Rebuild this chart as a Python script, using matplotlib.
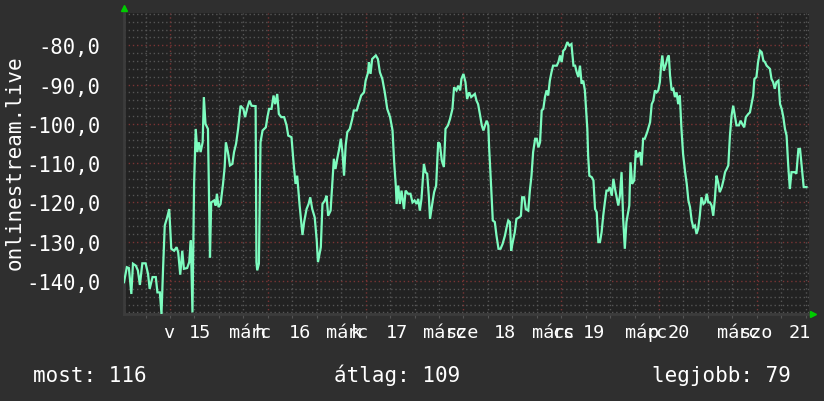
import matplotlib
matplotlib.use("Agg")
import matplotlib.pyplot as plt
from matplotlib.transforms import blended_transform_factory

# hours since 2020-03-15 00:00 and measured value
hours = [
    -11.3, -10.6, -10.1, -9.5, -9.1, -8.4, -7.9, -7.4, -6.8, -6.0, -5.4, -5.0, -4.3, -3.5, -3.1, -2.5,
    -2.1, -1.7, -1.3, -0.7, -0.2, 0.3, 1.0, 1.6, 2.0, 2.5, 3.0, 3.4, 4.2, 4.7, 5.1, 5.5,
    5.9, 6.3, 6.7, 7.1, 7.5, 8.0, 8.3, 8.7, 9.3, 9.8, 10.1, 10.8, 11.2, 11.5, 11.9, 12.4,
    13.0, 13.4, 13.7, 14.2, 14.7, 15.3, 15.7, 16.2, 16.7, 17.3, 18.0, 18.4, 19.0, 19.5, 20.0, 21.0,
    21.2, 21.4, 21.8, 22.2, 22.7, 23.5, 23.9, 24.3, 24.9, 25.4, 25.8, 26.3, 26.7, 27.3, 28.0, 28.6,
    29.0, 29.8, 30.3, 30.8, 31.2, 31.8, 32.5, 32.9, 33.5, 34.0, 34.4, 34.9, 35.5, 36.0, 36.3, 37.0,
    37.4, 38.0, 38.4, 38.8, 39.4, 39.8, 40.2, 40.6, 41.1, 41.5, 41.9, 42.3, 42.7, 43.1, 43.5, 44.1,
    44.7, 45.1, 45.8, 46.4, 46.9, 47.6, 48.0, 48.6, 48.8, 49.2, 49.6, 50.5, 51.0, 51.5, 52.1, 52.7,
    53.3, 54.0, 54.6, 55.0, 55.4, 55.6, 56.0, 56.4, 56.8, 57.4, 57.8, 58.4, 59.0, 59.5, 60.0, 60.5,
    60.9, 61.3, 61.7, 62.3, 62.7, 63.1, 63.5, 63.8, 64.4, 64.8, 65.3, 65.8, 66.2, 66.7, 67.2, 67.6,
    68.2, 68.7, 69.3, 69.7, 70.3, 70.7, 71.2, 71.5, 72.0, 72.5, 72.9, 73.4, 73.9, 74.8, 75.2, 75.6,
    76.1, 76.5, 76.9, 77.3, 77.7, 78.1, 78.3, 78.7, 79.2, 79.7, 80.1, 80.6, 81.1, 81.6, 82.2, 82.6,
    83.0, 83.4, 83.7, 84.1, 84.6, 85.0, 85.7, 86.1, 86.4, 86.9, 87.3, 87.9, 88.3, 88.7, 89.1, 89.6,
    90.0, 90.4, 90.8, 91.2, 91.6, 92.0, 92.4, 92.8, 93.2, 93.6, 94.0, 94.9, 95.3, 95.7, 96.1, 96.5,
    96.9, 97.5, 98.0, 98.5, 99.0, 99.4, 99.8, 100.2, 100.6, 101.0, 101.4, 101.8, 102.1, 102.4, 102.6, 102.9,
    103.5, 103.9, 104.3, 104.7, 105.1, 105.5, 105.9, 106.3, 106.7, 107.1, 107.5, 107.9, 108.4, 108.8, 109.2, 109.6,
    110.0, 110.4, 110.8, 111.2, 111.6, 112.0, 112.7, 113.0, 113.4, 113.9, 114.3, 114.7, 115.3, 115.7, 116.1, 116.5,
    117.1, 117.8, 118.2, 118.6, 119.0, 119.4, 119.8, 120.2, 120.5, 120.8, 121.2, 121.7, 122.1, 122.4, 122.7, 123.1,
    123.5, 123.9, 124.3, 124.7, 125.1, 125.5, 125.9, 126.4, 126.8, 127.2, 127.6, 128.0, 128.4, 128.8, 129.2, 129.6,
    130.0, 130.4, 130.9, 131.3, 131.7, 132.1, 132.5, 132.9, 133.3, 133.7, 134.1, 134.5, 134.9, 135.4, 135.8, 136.2,
    136.6, 137.0, 137.4, 137.8, 138.2, 138.6, 139.0, 139.6, 140.0, 140.4, 140.9, 141.3, 141.9, 142.3, 142.7, 143.1,
    143.4, 143.9, 144.3, 144.8, 145.2, 145.6, 146.0, 146.4, 146.8, 147.2, 147.6, 148.0, 148.4, 148.8, 149.3, 149.7,
    150.1, 150.5, 150.9, 151.3, 151.7, 152.1, 152.5, 152.9, 153.3, 153.7, 154.2, 154.6, 155.0, 155.4, 155.5, 156.2,
]
values = [
    -140.3, -136.5, -136.7, -143.3, -135.6, -136.1, -137.3, -141.0, -135.5, -135.5, -138.2, -142.0, -139.0, -139.0, -142.9, -142.9,
    -148.4, -136.5, -125.9, -123.8, -121.7, -131.8, -132.3, -131.4, -132.7, -138.4, -132.3, -136.9, -136.7, -135.2, -129.7, -148.0,
    -115.3, -101.3, -107.2, -104.7, -107.2, -104.7, -93.2, -100.0, -101.3, -134.0, -120.0, -119.5, -120.8, -117.8, -121.2, -120.4,
    -115.3, -111.0, -104.7, -107.2, -110.6, -110.2, -107.2, -105.1, -101.3, -95.4, -96.2, -98.3, -95.8, -94.1, -95.4, -95.5,
    -135.2, -137.3, -135.6, -104.7, -101.7, -100.9, -98.3, -96.2, -96.2, -92.8, -95.0, -92.4, -97.5, -98.3, -98.3, -100.4,
    -103.0, -103.4, -109.8, -115.3, -113.2, -120.8, -128.3, -125.0, -121.7, -120.4, -118.7, -121.7, -123.8, -129.7, -135.2, -131.4,
    -120.4, -119.5, -118.3, -123.4, -122.1, -115.3, -108.9, -111.5, -108.5, -106.4, -103.8, -107.2, -113.2, -105.5, -102.1, -101.3,
    -98.8, -96.6, -96.6, -94.5, -92.8, -92.0, -89.0, -86.9, -84.3, -87.3, -83.5, -82.6, -83.5, -86.9, -88.6, -92.0,
    -96.2, -98.3, -101.7, -109.8, -115.7, -120.4, -115.7, -120.4, -117.0, -121.7, -117.0, -117.8, -117.8, -120.0, -119.5, -120.4,
    -119.1, -122.1, -119.1, -110.2, -112.3, -112.7, -118.3, -124.2, -120.0, -117.4, -115.7, -104.7, -105.1, -109.4, -111.0, -101.3,
    -100.4, -98.8, -96.2, -90.7, -91.5, -90.3, -91.5, -88.6, -87.3, -89.4, -93.7, -92.0, -93.2, -92.4, -94.1, -95.0,
    -97.9, -100.4, -101.7, -100.4, -99.2, -100.4, -106.0, -114.0, -124.6, -125.0, -128.4, -131.8, -131.8, -130.6, -128.4, -126.3,
    -124.6, -125.0, -132.3, -130.1, -127.6, -124.2, -123.8, -123.4, -118.7, -118.7, -121.7, -122.1, -117.0, -113.2, -107.2, -103.8,
    -103.8, -106.0, -104.7, -96.6, -96.2, -93.2, -91.5, -92.8, -89.0, -86.9, -85.2, -85.2, -84.3, -82.6, -84.3, -81.4,
    -81.0, -79.2, -80.1, -79.7, -85.2, -85.2, -86.9, -88.1, -85.2, -89.8, -89.0, -91.5, -96.2, -101.3, -108.1, -113.2,
    -113.6, -114.4, -121.7, -122.5, -130.1, -130.1, -127.6, -123.4, -120.0, -117.0, -117.0, -116.1, -118.3, -114.0, -116.6, -118.7,
    -120.8, -118.3, -112.3, -124.2, -131.8, -125.0, -120.8, -109.8, -115.3, -114.4, -106.8, -108.5, -107.2, -110.6, -103.8, -103.8,
    -102.1, -99.6, -95.0, -94.1, -91.5, -92.0, -91.5, -89.4, -85.2, -82.6, -86.5, -84.8, -83.1, -82.6, -87.7, -91.5,
    -91.1, -93.2, -92.0, -95.0, -92.8, -101.3, -107.7, -112.3, -115.3, -119.5, -121.2, -124.6, -126.3, -125.9, -128.0, -126.7,
    -123.4, -118.7, -120.4, -120.0, -117.8, -120.0, -120.0, -120.8, -123.4, -119.1, -113.2, -114.9, -117.4, -116.1, -114.4, -112.3,
    -111.5, -110.6, -103.0, -97.9, -95.4, -97.9, -100.4, -100.4, -99.2, -100.0, -100.9, -98.3, -97.5, -97.1, -95.0, -92.8,
    -88.6, -88.1, -84.3, -81.4, -81.8, -83.9, -84.3, -85.2, -85.6, -86.0, -88.6, -89.4, -91.1, -89.4, -89.0, -95.0,
    -96.2, -98.3, -101.3, -103.0, -110.6, -116.6, -112.3, -112.3, -112.3, -112.7, -106.4, -106.4, -110.6, -114.9, -116.1, -116.1,
]

day_ticks = [0, 24, 48, 72, 96, 120, 144]
day_nums = ["15", "16", "17", "18", "19", "20", "21"]
day_abbr = ["v", "h", "k", "sze", "cs", "p", "szo"]
month = "márc"
y_ticks = [-80, -90, -100, -110, -120, -130, -140]
y_title = "onlinestream.live"
legend = ["most: 116", "átlag: 109", "legjobb: 79"]

BG = "#2f2f2f"
PLOT_BG = "#222222"
LINE = "#7dfcbf"
TXT = "#ffffff"
MONO = "DejaVu Sans Mono"
MINOR = "#555555"
MAJOR = "#7a3434"

W, H = 824, 402
fig = plt.figure(figsize=(W / 100, H / 100), dpi=100, facecolor=BG)
ax = fig.add_axes([124 / W, 87 / H, 685 / W, 301 / H])
ax.set_facecolor(PLOT_BG)

ax.set_xlim(-11.3, 156.8)
ax.set_ylim(-148.4, -71.8)

# grid: minor gray, major red
for h in range(-6, 157, 6):
    if h % 24:
        ax.axvline(h, color=MINOR, lw=1, ls=(0, (1, 2)), zorder=1)
for v in range(-148, -71, 2):
    if v % 10:
        ax.axhline(v, color=MINOR, lw=1, ls=(0, (1, 2)), zorder=1)
for h in day_ticks:
    ax.axvline(h, color=MAJOR, lw=1, ls=(0, (1, 2)), zorder=1)
for v in y_ticks:
    ax.axhline(v, color=MAJOR, lw=1, ls=(0, (1, 2)), zorder=1)

ax.plot(hours, values, color=LINE, lw=1.6, zorder=3, solid_joinstyle="miter")

for s in ["top", "right"]:
    ax.spines[s].set_visible(False)
for s in ["left", "bottom"]:
    ax.spines[s].set_color("#3c3c3c")
    ax.spines[s].set_linewidth(2)

ax.set_yticks(y_ticks)
ax.set_yticklabels([f"{v},0" for v in y_ticks], fontfamily=MONO, fontsize=14.8, color=TXT)
ax.tick_params(axis="y", length=0, pad=17)
ax.set_xticks(list(range(-6, 157, 6)))
ax.set_xticklabels([])
ax.tick_params(axis="x", length=3, color="#555555", direction="out")

fig.text(15 / W, 1 - 163 / H, y_title, rotation=90, ha="center", va="center",
         fontfamily=MONO, fontsize=15, color=TXT)

# day labels (month text overlaps the weekday, as in the original)
px_h = 4.076
tr = blended_transform_factory(ax.transData, fig.transFigure)
base_y = 1 - 338 / H
offs = [(None, -7, 19), (-39, -14, 21), (-40, -15, 20), (-40, -18, 30),
        (-29, -9, 22), (-34, -12, 9), (-40, -18, 32)]
for t, num, ab, (mo, ao, no) in zip(day_ticks, day_nums, day_abbr, offs):
    kw = dict(transform=tr, fontfamily=MONO, fontsize=13.3, color=TXT, va="baseline", ha="left")
    if mo is not None:
        ax.text(t + mo / px_h, base_y, month[:2], **kw)
        ax.text(t + (mo + 21) / px_h, base_y, month[2:], **kw)
    ax.text(t + ao / px_h, base_y, ab, **kw)
    ax.text(t + no / px_h, base_y, num, **kw)

for txt, x in zip(legend, [33, 334, 652]):
    fig.text(x / W, 1 - 382 / H, txt, fontfamily=MONO, fontsize=15, color=TXT,
             ha="left", va="baseline")

# axis arrows
fig.add_artist(plt.Line2D([124 / W], [1 - 9 / H], marker="^", ms=5, color="#00cc00", lw=0))
fig.add_artist(plt.Line2D([813 / W], [1 - 315 / H], marker=">", ms=5, color="#00cc00", lw=0))

fig.savefig("out.png", dpi=100, facecolor=BG)
